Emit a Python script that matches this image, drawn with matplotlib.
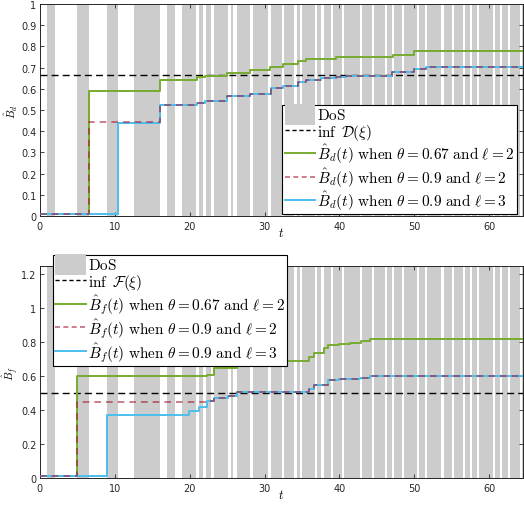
"""Belief estimates under DoS: B_d (top) and B_f (bottom), step curves over time."""
import numpy as np
import matplotlib
matplotlib.use("Agg")
import matplotlib.pyplot as plt
from matplotlib.patches import Patch, Rectangle
from matplotlib.lines import Line2D
from matplotlib.legend_handler import HandlerPatch

plt.rcParams["mathtext.fontset"] = "cm"

T_END = 64.5

# DoS intervals (start, end)
dos_start = [1.0, 5.0, 9.0, 12.6, 17.0, 19.0, 19.7, 21.2, 22.2, 23.3, 25.5, 26.3, 28.5,
             30.8, 32.6, 34.3, 35.0, 37.0, 37.9, 39.2, 40.6, 43.0, 44.6, 46.4, 47.3,
             48.6, 50.6, 51.7, 53.9, 55.3, 56.8, 57.7, 58.6, 60.8, 61.7, 62.8, 64.4]
dos_end = [2.0, 6.5, 10.5, 16.0, 18.0, 19.6, 20.9, 21.8, 22.8, 25.1, 25.8, 28.0, 30.5,
           32.3, 34.0, 34.7, 36.7, 37.6, 38.9, 40.3, 42.7, 44.3, 46.1, 47.0, 48.3,
           50.3, 51.4, 53.6, 55.0, 56.5, 57.4, 58.3, 60.5, 61.4, 62.5, 64.1, 64.5]

# top panel: B_d
inf_d = 0.667
t_d_g = [0, 6.5, 16, 21, 22, 25, 28, 30.7, 32.5, 34.5, 35.6, 37.6, 39.6, 40.9, 47.2, 49.9, T_END]
b_d_g = [0.01, 0.59, 0.644, 0.654, 0.661, 0.677, 0.688, 0.704, 0.715, 0.732, 0.739, 0.743,
         0.748, 0.751, 0.762, 0.778, 0.778]
t_d_r = [0, 6.5, 16, 21, 22, 25, 28, 30.9, 32.5, 34.5, 35.6, 37.6, 39.6, 40.9, 47.0, 49.9, 51.6, T_END]
b_d_r = [0.01, 0.446, 0.523, 0.535, 0.543, 0.565, 0.578, 0.602, 0.614, 0.633, 0.643, 0.649,
         0.657, 0.661, 0.680, 0.696, 0.704, 0.704]
t_d_b = [0, 10.5, 16, 21, 22, 25, 28, 30.9, 32.5, 34.5, 35.6, 37.6, 39.6, 40.9, 47.0, 49.9, 51.6, T_END]
b_d_b = [0.01, 0.441, 0.523, 0.535, 0.543, 0.565, 0.578, 0.602, 0.614, 0.633, 0.643, 0.649,
         0.657, 0.661, 0.680, 0.696, 0.704, 0.704]

# bottom panel: B_f
inf_f = 0.5
t_f_g = [0, 5, 22.3, 23.3, 26.3, 32.5, 36.0, 36.6, 38.0, 38.5, 40.0, 41.4, 42.9, 44.1, T_END]
b_f_g = [0.01, 0.602, 0.61, 0.649, 0.685, 0.69, 0.714, 0.738, 0.767, 0.783, 0.789, 0.797,
         0.807, 0.818, 0.818]
t_f_r = [0, 5, 22.3, 23.3, 25.1, 26.3, 36.0, 36.6, 38.5, 40.0, 42.7, 44.1, T_END]
b_f_r = [0.01, 0.447, 0.452, 0.474, 0.482, 0.507, 0.527, 0.547, 0.580, 0.586, 0.592, 0.604, 0.604]
t_f_b = [0, 9, 19.9, 21.3, 22.3, 23.3, 25.1, 26.3, 36.0, 36.6, 38.5, 40.0, 42.7, 44.1, T_END]
b_f_b = [0.01, 0.37, 0.393, 0.419, 0.452, 0.474, 0.482, 0.507, 0.527, 0.547, 0.580, 0.586,
         0.592, 0.604, 0.604]

GREEN = "#77AC30"
RED = "#A2142F"
BLUE = "#4DBEEE"
GRAY = "#CCCCCC"
AX_COL = "#262626"


class BigPatch(HandlerPatch):
    # taller gray box for the DoS entry, like the MATLAB legend
    def create_artists(self, legend, orig_handle, xdescent, ydescent, width, height,
                       fontsize, trans):
        r = Rectangle((-xdescent, -ydescent - 0.3 * height), width, height * 1.55,
                      facecolor=GRAY, edgecolor="none", transform=trans)
        return [r]


def draw_panel(ax, ylim, yticks, inf_val, curves, sub, inf_label):
    for s, e in zip(dos_start, dos_end):
        ax.axvspan(s, e, color=GRAY, lw=0, zorder=0)
    ax.axhline(inf_val, color="k", ls=(0, (5, 3)), lw=1.0, zorder=2)
    (tg, bg), (tr, br), (tb, bb) = curves
    ax.step(tg, bg, where="post", color=GREEN, lw=1.4, zorder=3)
    ax.step(tb, bb, where="post", color=BLUE, lw=1.4, zorder=3)
    ax.step(tr, br, where="post", color=RED, lw=1.2, ls=(0, (4, 3)), alpha=0.65, zorder=4)

    ax.set_xlim(0, T_END)
    ax.set_ylim(*ylim)
    ax.set_xticks(np.arange(0, 61, 10))
    ax.set_yticks(yticks)
    ax.set_yticklabels([f"{v:g}" for v in yticks])
    ax.tick_params(direction="in", top=True, right=True, labelsize=7, colors=AX_COL,
                   length=3, width=0.6)
    ax.tick_params(axis="y", pad=2.5)
    for sp in ax.spines.values():
        sp.set_color(AX_COL)
        sp.set_linewidth(0.7)
    ax.set_xlabel(r"$t$", fontsize=9)
    ax.xaxis.set_label_coords(0.5, -0.045)
    ax.set_ylabel(r"$\hat{B}_{%s}$" % sub, fontsize=8)
    ax.yaxis.set_label_coords(-0.041, 0.5)

    handles = [
        Patch(facecolor=GRAY, edgecolor="none"),
        Line2D([], [], color="k", ls=(0, (3, 2)), lw=1.0),
        Line2D([], [], color=GREEN, lw=1.4),
        Line2D([], [], color=RED, ls=(0, (3, 2)), lw=1.2, alpha=0.65),
        Line2D([], [], color=BLUE, lw=1.4),
    ]
    labels = [
        r"$\mathrm{DoS}$",
        inf_label,
        r"$\hat{B}_%s(t)\ \mathrm{when}\ \theta=0.67\ \mathrm{and}\ \ell=2$" % sub,
        r"$\hat{B}_%s(t)\ \mathrm{when}\ \theta=0.9\ \mathrm{and}\ \ell=2$" % sub,
        r"$\hat{B}_%s(t)\ \mathrm{when}\ \theta=0.9\ \mathrm{and}\ \ell=3$" % sub,
    ]
    return handles, labels


LEG_KW = dict(borderaxespad=0, fontsize=11, handlelength=2.0, handleheight=1.0,
              handletextpad=0.15, borderpad=0.15, labelspacing=0.0, fancybox=False,
              framealpha=1, edgecolor="k", handler_map={Patch: BigPatch()})

fig = plt.figure(figsize=(5.24, 5.06), dpi=100)
ax1 = fig.add_axes([0.076, 0.571, 0.922, 0.419])
ax2 = fig.add_axes([0.076, 0.0534, 0.922, 0.419])

h, l = draw_panel(ax1, (0, 1), np.round(np.arange(0, 1.01, 0.1), 1), inf_d,
                  [(t_d_g, b_d_g), (t_d_r, b_d_r), (t_d_b, b_d_b)], "d",
                  r"$\inf\ \mathcal{D}(\xi)$")
leg = ax1.legend(h, l, loc="lower right", bbox_to_anchor=(0.988, 0.008), **LEG_KW)
leg.get_frame().set_linewidth(0.8)

h, l = draw_panel(ax2, (0, 1.25), np.round(np.arange(0, 1.21, 0.2), 1), inf_f,
                  [(t_f_g, b_f_g), (t_f_r, b_f_r), (t_f_b, b_f_b)], "f",
                  r"$\inf\ \mathcal{F}(\xi)$")
leg = ax2.legend(h, l, loc="upper left", bbox_to_anchor=(0.027, 1.052), **LEG_KW)
leg.get_frame().set_linewidth(0.8)

fig.savefig("out.png", dpi=100)
